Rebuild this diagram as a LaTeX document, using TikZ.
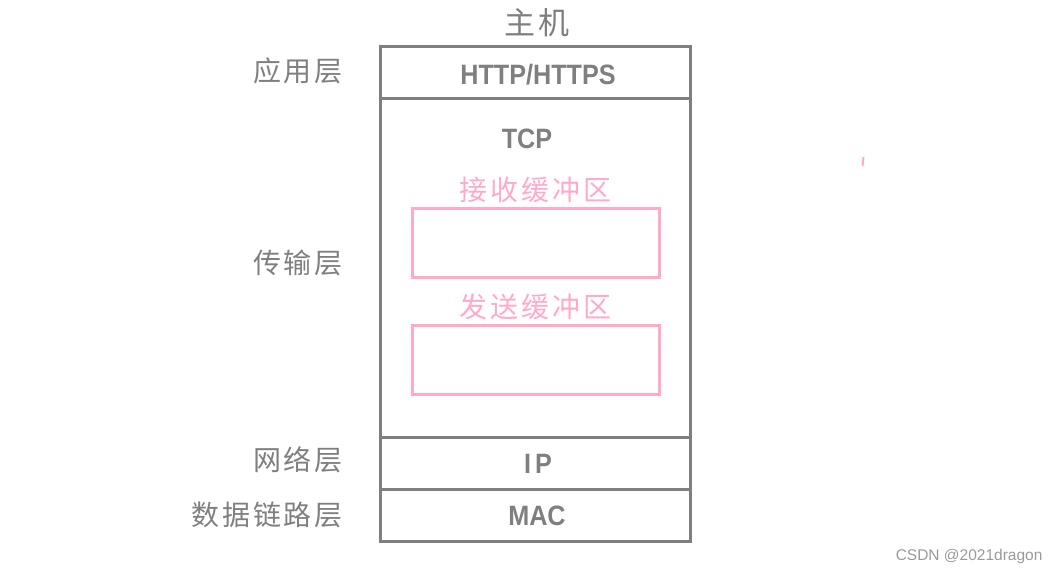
\documentclass[tikz,border=0pt]{standalone}
\usepackage{fontspec}
\usepackage{xcolor}
\usepackage{tikz}
\usetikzlibrary{positioning}
\setmainfont{Liberation Sans}
\newfontfamily\cjk[LetterSpace=10]{Noto Sans CJK SC}
\definecolor{layergray}{HTML}{7F7F7F}
\definecolor{bufpink}{HTML}{FFAACB}
\definecolor{markgray}{HTML}{9A9A9A}
\newcommand{\narrowtxt}[1]{\scalebox{0.9}[1]{#1}}
\tikzstyle{layerbox} = [draw=layergray, line width=3pt, rectangle, minimum width=310pt,
inner sep=0pt]
\tikzstyle{layertxt} = [text=layergray, font=\bfseries\fontsize{28}{30}\selectfont]
\tikzstyle{bufbox} = [draw=bufpink, line width=3pt, rectangle, minimum width=247pt,
minimum height=69pt, inner sep=0pt]

\begin{document}
\begin{tikzpicture}[x=1pt, y=-1pt,
            layerlabel/.style={anchor=east, text=layergray, inner sep=0pt,
            font=\cjk\fontsize{28}{30}\selectfont},
            buflabel/.style={text=bufpink, inner sep=3pt,
            font=\cjk\fontsize{28}{30}\selectfont}]
            \useasboundingbox (0,0) rectangle (1060,574);
            \node[text=layergray, font=\cjk\fontsize{31}{33}\selectfont] (host) at (537,23) {主机};
            %% Layers
            \node[layerbox, minimum height=52pt] (app) at (535,72) {};
            \node[layerbox, minimum height=339pt] (trans) at (535,267.5) {};
            \node[layerbox, minimum height=52pt] (net) at (535,463) {};
            \node[layerbox, minimum height=52pt] (link) at (535,515) {};
            \node[layertxt] (apptxt) at (538,75) {\narrowtxt{HTTP/HTTPS}};
            \node[layertxt] (tcp) at (527,139) {\narrowtxt{TCP}};
            \node[layertxt] (nettxt) at (538,464) {\narrowtxt{I\,P}};
            \node[layertxt] (linktxt) at (537,516) {\narrowtxt{MAC}};
            %% Buffers
            \node[bufbox] (recv) at (535.5,242.5) {};
            \node[buflabel, above=0pt of recv] (recvtxt) {接收缓冲区};
            \node[bufbox] (send) at (535.5,359.5) {};
            \node[buflabel, above=0pt of send] (sendtxt) {发送缓冲区};
            %%
            \node[layerlabel] (lapp) at (343,71) {应用层};
            \node[layerlabel] (ltrans) at (343,263) {传输层};
            \node[layerlabel] (lnet) at (343,460) {网络层};
            \node[layerlabel] (llink) at (343,515) {数据链路层};
            %%
            \draw[bufpink, line width=2pt] (863.5,157) -- (862.5,166);
            \node[anchor=east, text=markgray, font=\fontsize{15.5}{17}\selectfont] (mark) at (1046,556) {CSDN @2021dragon};
        \end{tikzpicture}
\end{document}
